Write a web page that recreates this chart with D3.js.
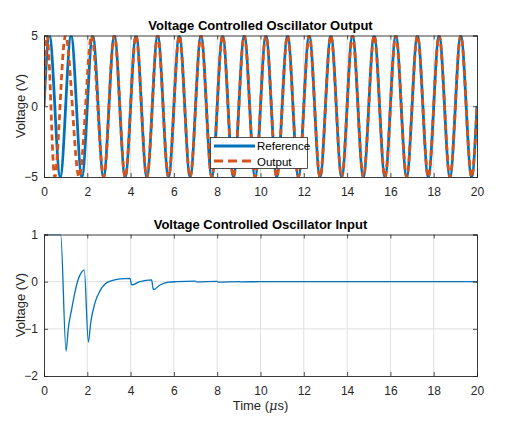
<!DOCTYPE html>
<html>
<head>
<meta charset="utf-8">
<script src="https://cdn.jsdelivr.net/npm/d3@7"></script>
<style>
  html, body { margin: 0; padding: 0; background: #fff; }
  svg { display: block; font-family: "Liberation Sans", Arial, Helvetica, sans-serif; }
</style>
</head>
<body>
<svg id="chart" width="510" height="433"></svg>
<script>
// ---------- data ----------
const xTicks = [0, 2, 4, 6, 8, 10, 12, 14, 16, 18, 20];
const topYTicks = [-5, 0, 5];
const botYTicks = [-2, -1, 0, 1];

// Reference sine: samples at peaks / zero crossings / troughs (time in µs, volts)
const refT = [0,0.25,0.5,0.75,1,1.25,1.5,1.75,2,2.25,2.5,2.75,3,3.25,3.5,3.75,4,4.25,4.5,4.75,
  5,5.25,5.5,5.75,6,6.25,6.5,6.75,7,7.25,7.5,7.75,8,8.25,8.5,8.75,9,9.25,9.5,9.75,
  10,10.25,10.5,10.75,11,11.25,11.5,11.75,12,12.25,12.5,12.75,13,13.25,13.5,13.75,14,14.25,14.5,14.75,
  15,15.25,15.5,15.75,16,16.25,16.5,16.75,17,17.25,17.5,17.75,18,18.25,18.5,18.75,19,19.25,19.5,19.75,20];
const refV = [0,5,0,-5,0,5,0,-5,0,5,0,-5,0,5,0,-5,0,5,0,-5,
  0,5,0,-5,0,5,0,-5,0,5,0,-5,0,5,0,-5,0,5,0,-5,
  0,5,0,-5,0,5,0,-5,0,5,0,-5,0,5,0,-5,0,5,0,-5,
  0,5,0,-5,0,5,0,-5,0,5,0,-5,0,5,0,-5,0,5,0,-5,0];

// VCO output before lock (afterwards it follows the reference)
const outEarlyT = [0, 0.14, 0.32, 0.5, 0.74, 1.0, 1.31, 1.62, 1.92, 2.2, 2.48, 2.76, 3.0];
const outEarlyV = [0, 5, 0, -5, 0, 5, 0, -5, 0, 5, 0, -5, 0];

// VCO input (control voltage)
const inT = [0, 0.77, 1.02, 1.12, 1.28, 1.43, 1.59, 1.74, 1.86, 2.05, 2.16, 2.36, 2.59, 2.82, 3.13, 3.51, 3.97,
  4.05, 4.43, 4.97, 5.05, 5.36, 5.74, 6.13, 6.98, 7.05, 7.98, 8.05, 9.0, 9.05, 10.0, 12.0, 14.0, 16.0, 18.0, 20.0];
const inV = [1, 1, -1.47, -1.0, -0.58, -0.22, 0.06, 0.2, 0.25, -1.28, -0.86, -0.44, -0.19, -0.05, 0.02, 0.06, 0.07,
  -0.07, 0.0, 0.04, -0.17, -0.07, -0.01, 0.0, 0.01, -0.005, 0.005, -0.008, 0.002, -0.004, 0.0, 0.0, 0.0, 0.0, 0.0, 0.0];

const titles = ["Voltage Controlled Oscillator Output", "Voltage Controlled Oscillator Input"];
const legendLabels = ["Reference", "Output"];

// ---------- styles ----------
const BLUE = "#0072BD", ORANGE = "#D95319", AX = "#262626", GRID = "#e0e0e0";
const FONT = "Liberation Sans, Arial, Helvetica, sans-serif";

const svg = d3.select("#chart");
const x = d3.scaleLinear().domain([0, 20]).range([44, 477]);
const yTop = d3.scaleLinear().domain([-5, 5]).range([177, 35.5]);
const yBot = d3.scaleLinear().domain([-2, 1]).range([376, 234.5]);

const refData = refT.map((t, i) => ({t, v: refV[i]}));
const outData = outEarlyT.map((t, i) => ({t, v: outEarlyV[i]}))
  .concat(refData.filter(d => d.t > 3.0));
const inData = inT.map((t, i) => ({t, v: inV[i]}));

function drawGrid(y, yTicks, idx) {
  const [x0, x1] = x.range();
  const [y1, y0] = y.range();
  const g = svg.append("g");
  g.append("g").selectAll("line").data(xTicks.slice(1, -1)).join("line")
    .attr("x1", d => x(d)).attr("x2", d => x(d)).attr("y1", y0).attr("y2", y1)
    .attr("stroke", GRID).attr("stroke-width", 1);
  g.append("g").selectAll("line").data(yTicks.slice(1, -1)).join("line")
    .attr("y1", d => y(d)).attr("y2", d => y(d)).attr("x1", x0).attr("x2", x1)
    .attr("stroke", GRID).attr("stroke-width", 1);
  svg.append("clipPath").attr("id", "clip" + idx).append("rect")
    .attr("x", x0).attr("y", y0).attr("width", x1 - x0).attr("height", y1 - y0);
}

function drawFrame(y, yTicks) {
  const [x0, x1] = x.range();
  const [y1, y0] = y.range();
  const fmt = d3.format("d");
  svg.append("g").attr("transform", `translate(0,${y1})`)
    .call(d3.axisBottom(x).tickValues(xTicks).tickSize(-4).tickPadding(10).tickFormat(fmt));
  svg.append("g").attr("transform", `translate(0,${y0})`)
    .call(d3.axisTop(x).tickValues(xTicks).tickSize(-4).tickFormat(""));
  svg.append("g").attr("transform", `translate(${x0},0)`)
    .call(d3.axisLeft(y).tickValues(yTicks).tickSize(-4).tickPadding(6).tickFormat(fmt));
  svg.append("g").attr("transform", `translate(${x1},0)`)
    .call(d3.axisRight(y).tickValues(yTicks).tickSize(-4).tickFormat(""));
  svg.selectAll(".domain").attr("stroke", AX).attr("stroke-width", 0.9);
  svg.selectAll(".tick line").attr("stroke", AX).attr("stroke-width", 0.8);
  svg.selectAll(".tick text").attr("fill", AX).attr("font-size", "12px").attr("font-family", FONT);
}

const line = (y) => d3.line().x(d => x(d.t)).y(d => y(d.v));

// ---------- top plot ----------
drawGrid(yTop, topYTicks, 0);
const gTop = svg.append("g").attr("clip-path", "url(#clip0)");
gTop.append("path")
  .attr("d", line(yTop).curve(d3.curveNatural)(refData))
  .attr("fill", "none").attr("stroke", BLUE).attr("stroke-width", 2.8);
gTop.append("path")
  .attr("d", line(yTop).curve(d3.curveNatural)(outData))
  .attr("fill", "none").attr("stroke", ORANGE).attr("stroke-width", 2.8)
  .attr("stroke-dasharray", "6,4");
drawFrame(yTop, topYTicks);

// ---------- bottom plot ----------
drawGrid(yBot, botYTicks, 1);
const gBot = svg.append("g").attr("clip-path", "url(#clip1)");
gBot.append("path")
  .attr("d", line(yBot).curve(d3.curveMonotoneX)(inData))
  .attr("fill", "none").attr("stroke", BLUE).attr("stroke-width", 1.3);
drawFrame(yBot, botYTicks);

// ---------- titles and labels ----------
svg.append("text").attr("x", 260.5).attr("y", 30).attr("text-anchor", "middle").attr("font-family", FONT)
  .attr("font-size", "13px").attr("font-weight", "bold").attr("fill", "#000").text(titles[0]);
svg.append("text").attr("x", 260.5).attr("y", 228.5).attr("text-anchor", "middle").attr("font-family", FONT)
  .attr("font-size", "13px").attr("font-weight", "bold").attr("fill", "#000").text(titles[1]);

svg.append("text").attr("transform", "translate(25,106) rotate(-90)").attr("text-anchor", "middle")
  .attr("font-family", FONT).attr("font-size", "13px").attr("fill", AX).text("Voltage (V)");
svg.append("text").attr("transform", "translate(25,305) rotate(-90)").attr("text-anchor", "middle")
  .attr("font-family", FONT).attr("font-size", "13px").attr("fill", AX).text("Voltage (V)");

const xl = svg.append("text").attr("x", 260.5).attr("y", 410).attr("text-anchor", "middle")
  .attr("font-family", FONT).attr("font-size", "13px").attr("fill", AX);
xl.append("tspan").text("Time (");
xl.append("tspan").attr("font-style", "italic").attr("font-family", "DejaVu Serif, serif").text("μ");
xl.append("tspan").text("s)");

// ---------- legend ----------
const lg = svg.append("g");
lg.append("rect").attr("x", 210.5).attr("y", 137.5).attr("width", 97).attr("height", 31)
  .attr("fill", "#fff").attr("stroke", AX).attr("stroke-width", 0.8);
lg.append("line").attr("x1", 214).attr("x2", 255).attr("y1", 146).attr("y2", 146)
  .attr("stroke", BLUE).attr("stroke-width", 2.8);
lg.append("line").attr("x1", 214).attr("x2", 255).attr("y1", 161).attr("y2", 161)
  .attr("stroke", ORANGE).attr("stroke-width", 2.8).attr("stroke-dasharray", "9,5");
lg.append("text").attr("x", 257).attr("y", 150).attr("font-family", FONT).attr("font-size", "11.5px").attr("fill", "#000").text(legendLabels[0]);
lg.append("text").attr("x", 257).attr("y", 165.5).attr("font-family", FONT).attr("font-size", "11.5px").attr("fill", "#000").text(legendLabels[1]);
</script>
</body>
</html>
